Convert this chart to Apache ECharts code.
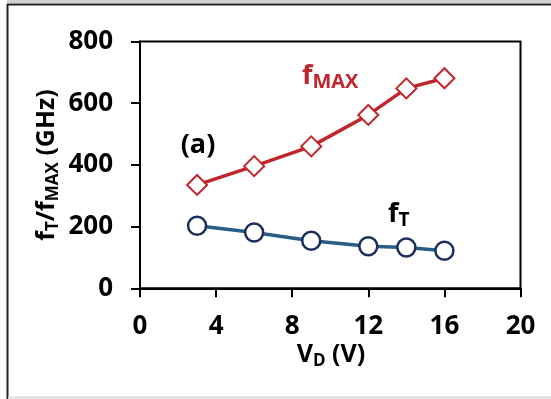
<!DOCTYPE html>
<html>
<head>
<meta charset="utf-8">
<script src="https://cdn.jsdelivr.net/npm/echarts@6/dist/echarts.min.js"></script>
<style>
html,body{margin:0;padding:0;background:#fff;}
#c{width:551px;height:399px;}
</style>
</head>
<body>
<div id="c"></div>
<script>
// Data
var vd = [3, 6, 9, 12, 14, 16];
var fMax = [335, 396, 460, 562, 648, 681];
var fT = [203, 181, 154, 136, 132, 122];
var xTicks = [0, 4, 8, 12, 16, 20];
var yTicks = [0, 200, 400, 600, 800];

var FONT = "'Open Sans', 'DejaVu Sans', sans-serif";
var RED = '#c0262c';
var BLUE_LINE = '#2a5d88';
var BLUE_MARK = '#1b2e5e';

function pairs(xs, ys) { return xs.map(function (x, i) { return [x, ys[i]]; }); }

var chart = echarts.init(document.getElementById('c'), null, { renderer: 'canvas' });
chart.setOption({
  animation: false,
  backgroundColor: '#fff',
  grid: { left: 140, right: 30.5, top: 41.5, bottom: 110.7, show: true, borderColor: '#000', borderWidth: 2, backgroundColor: 'transparent' },
  xAxis: {
    type: 'value', min: xTicks[0], max: xTicks[xTicks.length - 1], interval: 4,
    axisLine: { show: true, onZero: false, lineStyle: { color: '#000', width: 2 } },
    axisTick: { show: true, inside: false, length: 9, lineStyle: { color: '#000', width: 2 } },
    splitLine: { show: false },
    axisLabel: { color: '#000', fontSize: 26, fontWeight: 'bold', fontFamily: FONT, margin: 25 }
  },
  yAxis: {
    type: 'value', min: yTicks[0], max: yTicks[yTicks.length - 1], interval: 200,
    axisLine: { show: true, onZero: false, lineStyle: { color: '#000', width: 2 } },
    axisTick: { show: true, inside: false, length: 9, lineStyle: { color: '#000', width: 2 } },
    splitLine: { show: false },
    axisLabel: { color: '#000', fontSize: 26, fontWeight: 'bold', fontFamily: FONT, margin: 27 }
  },
  series: [
    {
      name: 'fMAX', type: 'line', data: pairs(vd, fMax),
      symbol: 'diamond', symbolSize: 20,
      lineStyle: { color: RED, width: 3.5 },
      itemStyle: { color: '#fff', borderColor: RED, borderWidth: 2 },
      z: 3
    },
    {
      name: 'fT', type: 'line', data: pairs(vd, fT),
      symbol: 'circle', symbolSize: 18,
      lineStyle: { color: BLUE_LINE, width: 3.5 },
      itemStyle: { color: '#fff', borderColor: BLUE_MARK, borderWidth: 2.5 },
      z: 3
    }
  ],
  graphic: [
    // frame
    { type: 'line', shape: { x1: 7, y1: 1.5, x2: 551, y2: 1.5 }, style: { stroke: '#d4d4d4', lineWidth: 3 } },
    { type: 'line', shape: { x1: 7, y1: 4.5, x2: 551, y2: 4.5 }, style: { stroke: '#222', lineWidth: 2 } },
    { type: 'line', shape: { x1: 7.5, y1: 4, x2: 7.5, y2: 399 }, style: { stroke: '#222', lineWidth: 2 } },
    { type: 'line', shape: { x1: 8, y1: 397.5, x2: 551, y2: 397.5 }, style: { stroke: '#dcdcdc', lineWidth: 2 } },
    // y axis title
    {
      type: 'text', x: 47, y: 165, rotation: Math.PI / 2,
      style: {
        text: '{m|f}{s|T}{m|/f}{s|MAX}{m| (GHz)}',
        align: 'center', verticalAlign: 'middle',
        rich: {
          m: { fontSize: 25, fontWeight: 'bold', fontFamily: FONT, fill: '#000', lineHeight: 30, verticalAlign: 'middle' },
          s: { fontSize: 17, fontWeight: 'bold', fontFamily: FONT, fill: '#000', lineHeight: 14, verticalAlign: 'bottom' }
        }
      }
    },
    // x axis title
    {
      type: 'text', x: 331, y: 355,
      style: {
        text: '{m|V}{s|D}{m| (V)}',
        align: 'center', verticalAlign: 'middle',
        rich: {
          m: { fontSize: 25, fontWeight: 'bold', fontFamily: FONT, fill: '#000', lineHeight: 30, verticalAlign: 'middle' },
          s: { fontSize: 17, fontWeight: 'bold', fontFamily: FONT, fill: '#000', lineHeight: 14, verticalAlign: 'bottom' }
        }
      }
    },
    // annotations
    {
      type: 'text', x: 198, y: 145,
      style: { text: '(a)', align: 'center', verticalAlign: 'middle', fontSize: 27, fontWeight: 'bold', fontFamily: FONT, fill: '#000' }
    },
    {
      type: 'text', x: 302, y: 76,
      style: {
        text: '{m|f}{s|MAX}',
        align: 'left', verticalAlign: 'middle',
        rich: {
          m: { fontSize: 27, fontWeight: 'bold', fontFamily: FONT, fill: RED, lineHeight: 32, verticalAlign: 'middle' },
          s: { fontSize: 20, fontWeight: 'bold', fontFamily: FONT, fill: RED, lineHeight: 14, verticalAlign: 'bottom' }
        }
      }
    },
    {
      type: 'text', x: 388, y: 214,
      style: {
        text: '{m|f}{s|T}',
        align: 'left', verticalAlign: 'middle',
        rich: {
          m: { fontSize: 27, fontWeight: 'bold', fontFamily: FONT, fill: '#000', lineHeight: 32, verticalAlign: 'middle' },
          s: { fontSize: 19, fontWeight: 'bold', fontFamily: FONT, fill: '#000', lineHeight: 14, verticalAlign: 'bottom' }
        }
      }
    }
  ]
});
</script>
</body>
</html>
